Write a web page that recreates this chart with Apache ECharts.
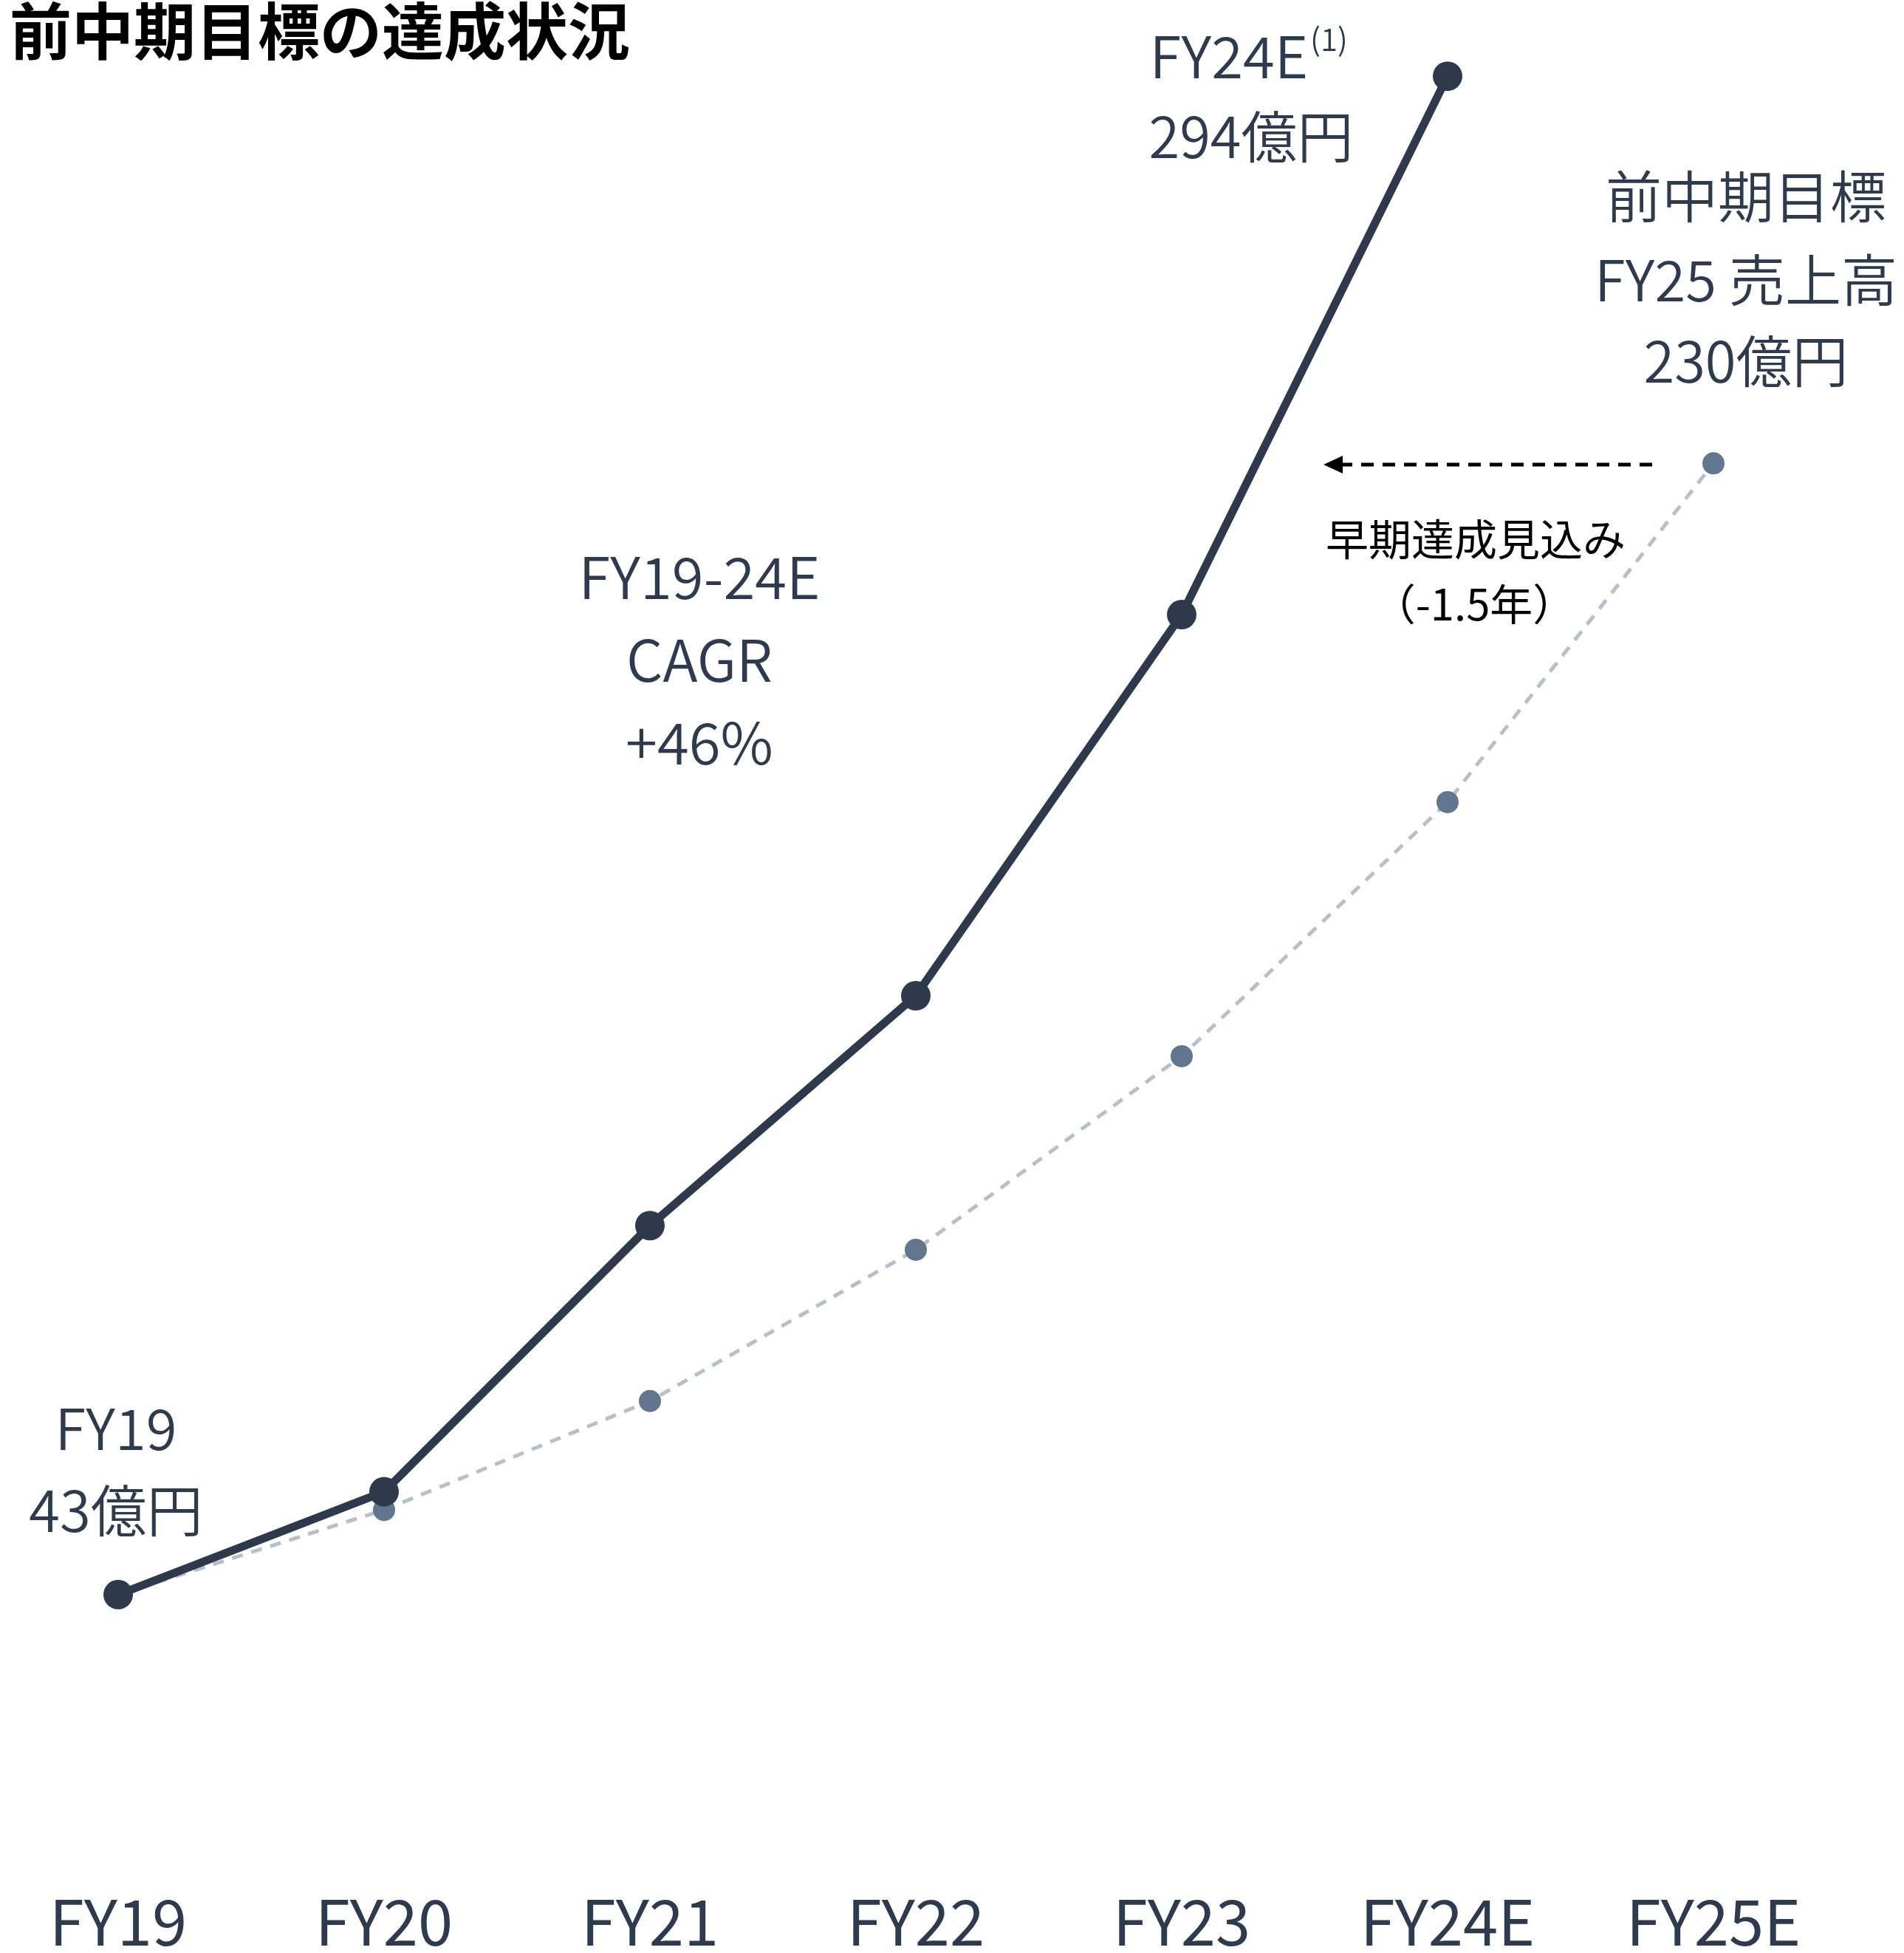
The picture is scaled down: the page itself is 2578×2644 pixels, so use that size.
<!DOCTYPE html>
<html>
<head>
<meta charset="utf-8">
<script src="https://cdn.jsdelivr.net/npm/echarts@6/dist/echarts.min.js"></script>
<style>
html,body{margin:0;padding:0;background:#fff;}
#chart{width:2578px;height:2644px;}
</style>
</head>
<body>
<div id="chart"></div>
<script>
// ---- data ----
var categories = ['FY19', 'FY20', 'FY21', 'FY22', 'FY23', 'FY24E', 'FY25E'];
var actualSales = [43, 60, 104, 142, 205, 294, null];          // 売上高 実績・見込み (億円)
var planPath = [43, 57, 75, 100, 132, 174, 230];               // 前中期目標ペース (億円)
var yMin = 0, yMax = 300;

var FONT = '"Noto Sans CJK JP", "Noto Sans", sans-serif';
var TXT = '#2E3B4E';

var chart = echarts.init(document.getElementById('chart'), null, {renderer: 'canvas'});

function txt(x, y, s, size, color, align, weight) {
  return {
    type: 'text', x: x, y: y, z: 10,
    style: {
      text: s, fontSize: size, fontFamily: FONT, fill: color || TXT,
      align: align || 'center', verticalAlign: 'middle',
      fontWeight: weight || 350
    }
  };
}

var option = {
  animation: false,
  backgroundColor: '#ffffff',
  grid: {left: 160, right: 258, top: 54, bottom: 130, containLabel: false},
  xAxis: {
    type: 'category',
    data: categories,
    boundaryGap: false,
    axisLine: {show: false},
    axisTick: {show: false},
    splitLine: {show: false},
    axisLabel: {fontSize: 85, color: TXT, fontFamily: FONT, margin: 48, fontWeight: 'normal'}
  },
  yAxis: {
    type: 'value', min: yMin, max: yMax, show: false,
    splitLine: {show: false}
  },
  series: [
    {
      name: '前中期目標',
      type: 'line',
      data: planPath,
      z: 2,
      symbol: 'circle',
      symbolSize: 30,
      showAllSymbol: true,
      lineStyle: {color: '#B7BFCB', width: 5, type: [15, 12]},
      itemStyle: {color: '#63768F'}
    },
    {
      name: '売上高',
      type: 'line',
      data: actualSales,
      z: 3,
      symbol: 'circle',
      symbolSize: 40,
      showAllSymbol: true,
      lineStyle: {color: '#2E3A4C', width: 11},
      itemStyle: {color: '#2E3A4C'}
    }
  ],
  graphic: [
    txt(13, 42, '前中期目標の達成状況', 84, '#000000', 'left', 'bold'),
    // FY24E label
    txt(1664, 76, 'FY24E', 78),
    txt(1774, 53, '(1)', 42, TXT, 'left'),
    txt(1694, 185, '294億円', 76),
    // target label
    txt(2364, 266, '前中期目標', 76),
    txt(2364, 379, 'FY25 売上高', 76),
    txt(2364, 489, '230億円', 76),
    // early achievement
    txt(1998, 730, '早期達成見込み', 58, '#000000', 'center', 'normal'),
    txt(1996, 818, '（-1.5年）', 58, '#000000', 'center', 'normal'),
    // CAGR
    txt(947, 781, 'FY19-24E', 78),
    txt(947, 893, 'CAGR', 78),
    txt(947, 1005, '+46%', 78),
    // FY19
    txt(157, 1934, 'FY19', 76),
    txt(157, 2045, '43億円', 76),
    // arrow
    {
      type: 'line', z: 10,
      shape: {x1: 2237, y1: 629, x2: 1812, y2: 629},
      style: {stroke: '#000000', lineWidth: 5, lineDash: [17, 12]}
    },
    {
      type: 'polygon', z: 10,
      shape: {points: [[1792, 629], [1818, 617], [1818, 641]]},
      style: {fill: '#000000'}
    }
  ]
};
chart.setOption(option);
</script>
</body>
</html>
